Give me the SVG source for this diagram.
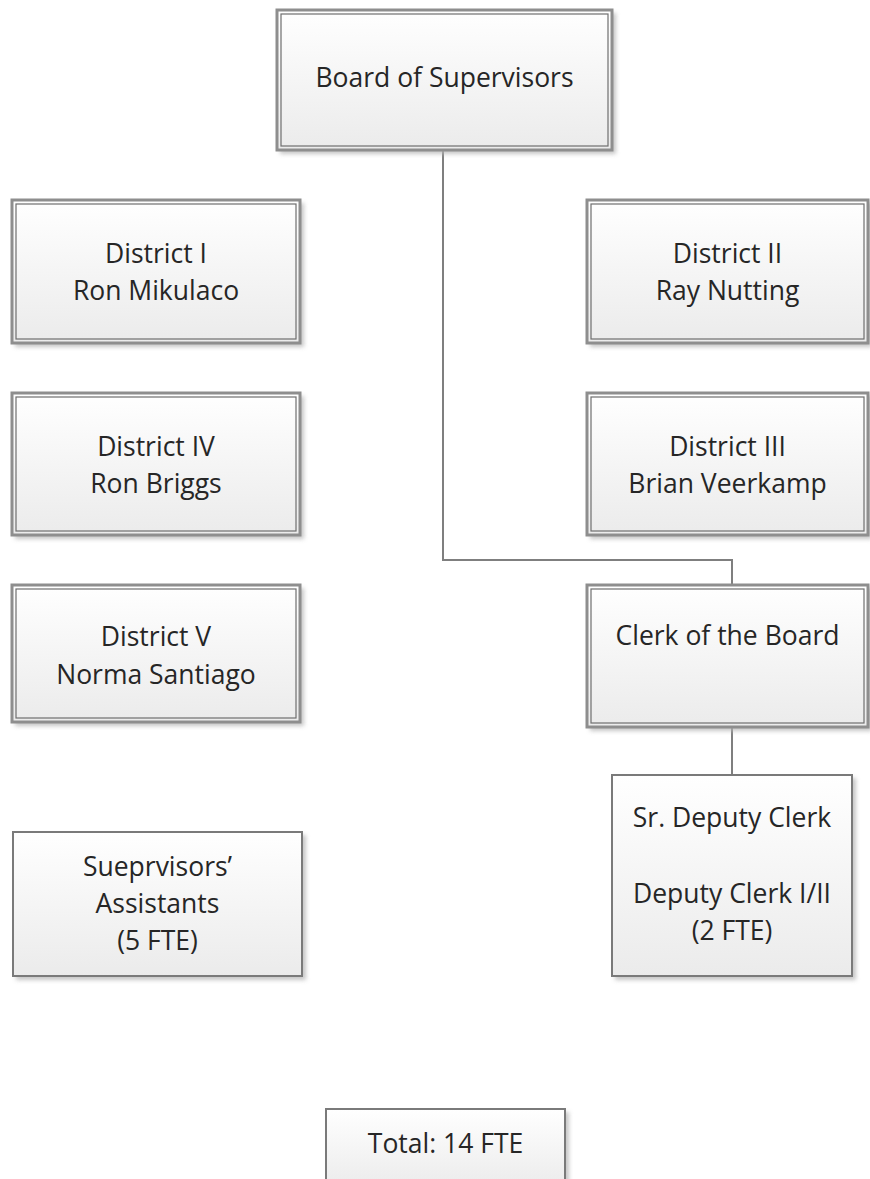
<svg xmlns="http://www.w3.org/2000/svg" width="870" height="1179" viewBox="0 0 870 1179">
<defs>
<linearGradient id="g" x1="0" y1="0" x2="0" y2="1">
<stop offset="0" stop-color="#ffffff"/>
<stop offset="1" stop-color="#ebebeb"/>
</linearGradient>
<filter id="sh" x="-10%" y="-10%" width="130%" height="130%">
<feGaussianBlur stdDeviation="2"/>
</filter>
</defs>
<style>
.shadow{fill:#b8b8b8;filter:url(#sh);opacity:0.8}
.outer{fill:url(#g);stroke:#8e8e8e;stroke-width:3}
.inner{fill:none;stroke:#6e6e6e;stroke-width:1.2}
.single{fill:url(#g);stroke:#7a7a7a;stroke-width:2}
.t{font-family:"Open Sans","Noto Sans","Liberation Sans",sans-serif;font-size:26.5px;fill:#262626;text-anchor:middle}
.conn{fill:none;stroke:#7f7f7f;stroke-width:2}
</style>
<rect width="870" height="1179" fill="#ffffff"/>
<g id="connectors">
<polyline class="conn" points="443,150 443,560 732,560 732,585"/>
<line class="conn" x1="732" y1="727" x2="732" y2="775"/>
</g>
<g id="board">
<rect class="shadow" x="280" y="13" width="336" height="141"/>
<rect class="outer" x="277" y="10" width="335" height="140"/>
<rect class="inner" x="281" y="14" width="327" height="132"/>
<text class="t" x="444.5" y="87">Board of Supervisors</text>
</g>
<g id="district1">
<rect class="shadow" x="15" y="203" width="289" height="144"/>
<rect class="outer" x="12" y="200" width="288" height="143"/>
<rect class="inner" x="16" y="204" width="280" height="135"/>
<text class="t" x="156" y="263">District I</text>
<text class="t" x="156" y="300">Ron Mikulaco</text>
</g>
<g id="district2">
<rect class="shadow" x="590" y="203" width="282" height="144"/>
<rect class="outer" x="587" y="200" width="281" height="143"/>
<rect class="inner" x="591" y="204" width="273" height="135"/>
<text class="t" x="727.5" y="263">District II</text>
<text class="t" x="727.5" y="300">Ray Nutting</text>
</g>
<g id="district4">
<rect class="shadow" x="15" y="396" width="289" height="143"/>
<rect class="outer" x="12" y="393" width="288" height="142"/>
<rect class="inner" x="16" y="397" width="280" height="134"/>
<text class="t" x="156" y="456">District IV</text>
<text class="t" x="156" y="493">Ron Briggs</text>
</g>
<g id="district3">
<rect class="shadow" x="590" y="396" width="282" height="143"/>
<rect class="outer" x="587" y="393" width="281" height="142"/>
<rect class="inner" x="591" y="397" width="273" height="134"/>
<text class="t" x="727.5" y="456">District III</text>
<text class="t" x="727.5" y="493">Brian Veerkamp</text>
</g>
<g id="district5">
<rect class="shadow" x="15" y="588" width="289" height="138"/>
<rect class="outer" x="12" y="585" width="288" height="137"/>
<rect class="inner" x="16" y="589" width="280" height="129"/>
<text class="t" x="156" y="646">District V</text>
<text class="t" x="156" y="684">Norma Santiago</text>
</g>
<g id="clerk">
<rect class="shadow" x="590" y="588" width="282" height="143"/>
<rect class="outer" x="587" y="585" width="281" height="142"/>
<rect class="inner" x="591" y="589" width="273" height="134"/>
<text class="t" x="727.5" y="645">Clerk of the Board</text>
</g>
<g id="deputies">
<rect class="shadow" x="615" y="778" width="241" height="202"/>
<rect class="single" x="612" y="775" width="240" height="201"/>
<text class="t" x="732" y="827">Sr. Deputy Clerk</text>
<text class="t" x="732" y="903">Deputy Clerk I/II</text>
<text class="t" x="732" y="940">(2 FTE)</text>
</g>
<g id="assistants">
<rect class="shadow" x="16" y="835" width="290" height="145"/>
<rect class="single" x="13" y="832" width="289" height="144"/>
<text class="t" x="157.5" y="876">Sueprvisors’</text>
<text class="t" x="157.5" y="913">Assistants</text>
<text class="t" x="157.5" y="950">(5 FTE)</text>
</g>
<g id="total">
<rect class="shadow" x="329" y="1112" width="240" height="80"/>
<rect class="single" x="326" y="1109" width="239" height="80"/>
<text class="t" x="445.5" y="1153">Total: 14 FTE</text>
</g>
</svg>
